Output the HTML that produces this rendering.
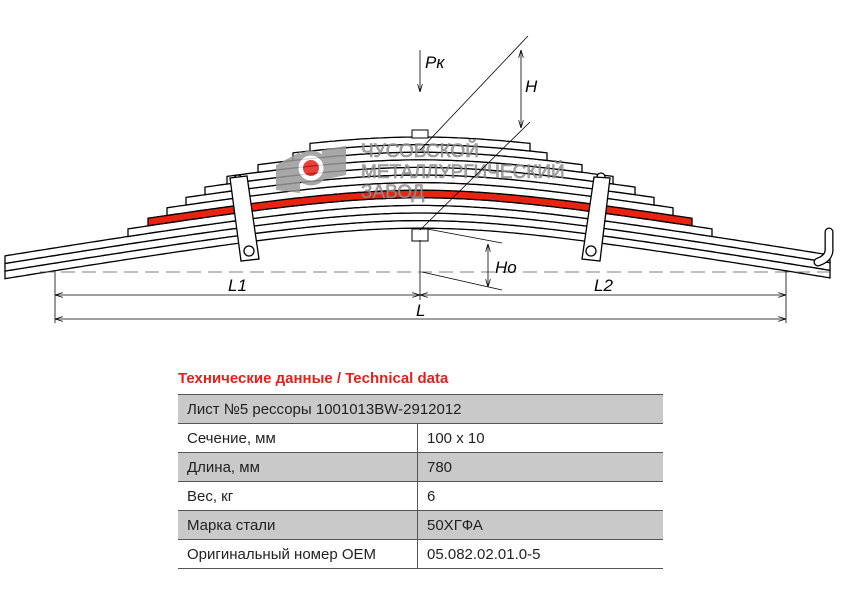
<!DOCTYPE html>
<html><head><meta charset="utf-8"><style>
body{margin:0;background:#fff;width:842px;height:595px;overflow:hidden;position:relative;font-family:"Liberation Sans","Noto Sans CJK SC",sans-serif}
.title{position:absolute;left:178px;top:370px;color:#e3201b;font-weight:bold;font-size:15px}
table{position:absolute;left:178px;top:394px;width:485px;border-collapse:collapse;font-size:15px;color:#222}
td{height:28px;padding:0 0 0 9px;border-bottom:1.5px solid #555}
tr.g td{background:#c9c9c9}
td.r{border-left:1.5px solid #555}
tr:first-child td{border-top:1.5px solid #555}
</style></head><body>
<svg id="s" width="842" height="340" style="position:absolute;left:0;top:0" font-family="Liberation Sans,sans-serif">
<defs><marker id="a" markerWidth="10" markerHeight="6" refX="10" refY="3" orient="auto-start-reverse"><path d="M0,0 L10,3 L0,6" fill="none" stroke="#000" stroke-width="1"/></marker></defs>
<g id="leaves" stroke="#000" stroke-width="1.3"></g>
<!-- hook -->
<path d="M818,262 Q830,258 829,248 L829,232" fill="none" stroke="#000" stroke-width="9" stroke-linecap="round"/>
<path d="M818,262 Q830,258 829,248 L829,232" fill="none" stroke="#fff" stroke-width="6.4" stroke-linecap="round"/>
<!-- watermark -->
<g opacity="0.85">
<polygon points="276,165 300,152 300,193 276,190" fill="#999"/>
<polygon points="322,150 346,146 346,175 322,180" fill="#999"/>
<circle cx="311" cy="168" r="15" fill="#fff" stroke="#999" stroke-width="5"/>
<circle cx="311" cy="168" r="8" fill="#e3201b"/>
<g fill="#999" stroke="#777" stroke-width="0.6" font-size="19">
<text x="361" y="157">ЧУСОВСКОЙ</text><text x="361" y="178">МЕТАЛЛУРГИЧЕСКИЙ</text><text x="361" y="198">ЗАВОД</text></g>
</g>
<!-- center bolt -->
<rect x="412" y="130" width="16" height="8" fill="#fff" stroke="#000"/>
<rect x="412" y="229" width="16" height="12" fill="#fff" stroke="#000"/>
<!-- clamps -->
<g fill="#fff" stroke="#000" stroke-width="1.3">
<circle cx="238" cy="179" r="4"/>
<polygon points="230,178 247,176 259,259 241,261"/>
<circle cx="249" cy="251" r="5"/>
<circle cx="601" cy="177" r="4"/>
<polygon points="594,177 610,178 600,261 582,259"/>
<circle cx="591" cy="251" r="5"/>
</g>
<!-- dims -->
<g stroke="#000" stroke-width="0.8" fill="none">
<line x1="40" y1="272" x2="830" y2="272" stroke-dasharray="14,7" stroke="#555"/>
<line x1="55" y1="270" x2="55" y2="323"/>
<line x1="420" y1="240" x2="420" y2="300"/>
<line x1="786" y1="270" x2="786" y2="323"/>
<line x1="55" y1="295" x2="420" y2="295" marker-start="url(#a)" marker-end="url(#a)"/>
<line x1="420" y1="295" x2="786" y2="295" marker-start="url(#a)" marker-end="url(#a)"/>
<line x1="55" y1="319" x2="786" y2="319" marker-start="url(#a)" marker-end="url(#a)"/>
<line x1="420" y1="50" x2="420" y2="92" marker-end="url(#a)"/>
<line x1="521" y1="50" x2="521" y2="128" marker-start="url(#a)" marker-end="url(#a)"/>
<line x1="528" y1="36" x2="420" y2="150"/>
<line x1="530" y1="122" x2="420" y2="230"/>
<line x1="422" y1="228" x2="502" y2="243"/>
<line x1="422" y1="272" x2="502" y2="290"/>
<line x1="488" y1="244" x2="488" y2="287" marker-start="url(#a)" marker-end="url(#a)"/>
</g>
<g font-style="italic" font-size="17" fill="#000">
<text x="425" y="68">Pк</text><text x="525" y="92">H</text><text x="495" y="273">Ho</text>
<text x="228" y="291">L1</text><text x="594" y="291">L2</text><text x="416" y="316">L</text>
</g>
</svg>
<script>
(function(){
var g=document.getElementById('leaves'),T=7.6,k=0.17,s=141.7;
function f(d){return k*(Math.sqrt(d*d+s*s)-s);}
var ds=[110,127,162,193,215,234,253,272,292,415,415,415];
for(var i=0;i<12;i++){
 var d=ds[i],c=137+i*T,dl=d,dr=(i>=9?410:d),p=[],q=[];
 for(var x=420-dl;x<=420+dr;x+=4){p.push(x+','+(c+f(Math.abs(x-420))).toFixed(1));q.unshift(x+','+(c+T+f(Math.abs(x-420))).toFixed(1));}
 var xe=420+dr;p.push(xe+','+(c+f(dr)).toFixed(1));q.unshift(xe+','+(c+T+f(dr)).toFixed(1));
 var el=document.createElementNS('http://www.w3.org/2000/svg','polygon');
 el.setAttribute('points',p.concat(q).join(' '));
 el.setAttribute('fill',i==7?'#e8230f':'#fff');
 g.insertBefore(el,g.firstChild);
}})();
</script>
<div class="title">Технические данные / Technical data</div>
<table>
<tr class="g"><td colspan="2">Лист №5 рессоры 1001013BW-2912012</td></tr>
<tr><td style="width:230px">Сечение, мм</td><td class="r">100 х 10</td></tr>
<tr class="g"><td>Длина, мм</td><td class="r">780</td></tr>
<tr><td>Вес, кг</td><td class="r">6</td></tr>
<tr class="g"><td>Марка стали</td><td class="r">50ХГФА</td></tr>
<tr><td>Оригинальный номер OEM</td><td class="r">05.082.02.01.0-5</td></tr>
</table>
</body></html>
